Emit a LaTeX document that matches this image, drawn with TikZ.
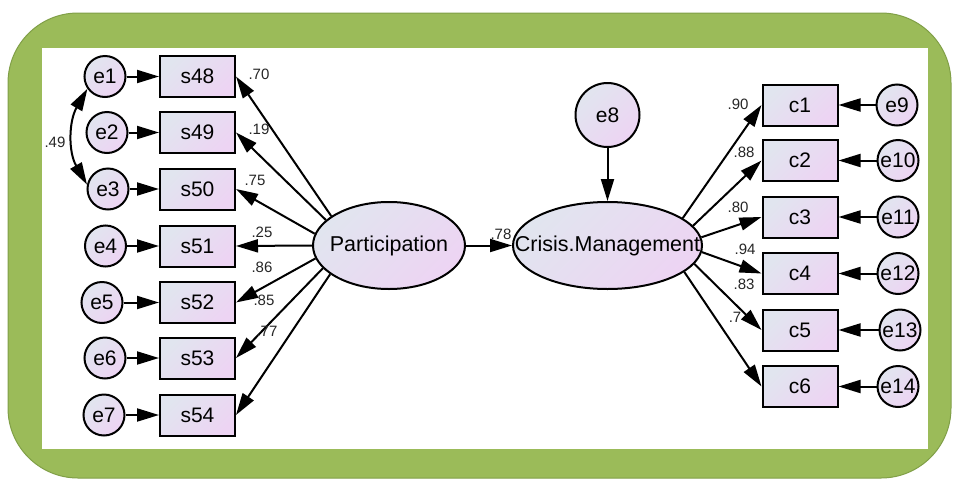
\documentclass[tikz,border=0pt]{standalone}
\usepackage{fontspec}
\setmainfont{Liberation Sans}
\usetikzlibrary{shapes.geometric,arrows.meta}
\definecolor{framegreen}{HTML}{9BBB59}
\definecolor{frameedge}{HTML}{809F47}
\definecolor{shadeA}{HTML}{E1E5EF}
\definecolor{shadeB}{HTML}{EDD4F3}
% zero-width centred text, so an oval keeps its given size
\newcommand\ctrtext[1]{\makebox[0pt]{#1}}
\begin{document}
\begin{tikzpicture}[x=1pt,y=1pt,
  >={Triangle[length=22pt,width=13pt]},
  every node/.style={inner sep=0pt},
  grad/.style={top color=shadeA, bottom color=shadeB, shading angle=45,
    draw=black, line width=2pt},
  obs/.style={grad, rectangle, minimum width=75pt, minimum height=41pt,
    font=\fontsize{21}{24}\selectfont},
  err/.style={grad, circle, minimum size=41pt,
    font=\fontsize{21}{24}\selectfont},
  lat/.style={grad, ellipse, minimum height=87pt,
    font=\fontsize{21.5}{24}\selectfont},
  arr/.style={line width=2pt, ->},
  coef/.style={font=\fontsize{15}{17}\selectfont, text=black!85}]

\useasboundingbox (0,0) rectangle (954,-480);

% green frame with white canvas
\fill[framegreen, draw=frameedge, line width=1pt, rounded corners=70pt]
  (8,-13) rectangle (951,-478);
\fill[white] (42,-48) rectangle (928,-449);

% latent variables
\node[lat, minimum width=152pt] (part) at (389,-245.5) {\ctrtext{Participation}};
\node[lat, minimum width=189pt] (crisis) at (607.5,-245.5) {\ctrtext{Crisis.Management}};
\node[grad, circle, minimum size=64pt, font=\fontsize{21}{24}\selectfont]
  (e8) at (607.5,-115) {e8};

% indicators of Participation
\node[obs] (s48) at (197.5,-76.5) {s48};
\node[obs] (s49) at (197.5,-132.5) {s49};
\node[obs] (s50) at (197.5,-189) {s50};
\node[obs] (s51) at (197.5,-246) {s51};
\node[obs] (s52) at (197.5,-302.5) {s52};
\node[obs] (s53) at (197.5,-358) {s53};
\node[obs] (s54) at (197.5,-415) {s54};

\node[err] (e1) at (105,-76.5) {\ctrtext{e1}};
\node[err] (e2) at (107,-132.5) {\ctrtext{e2}};
\node[err] (e3) at (108,-189) {\ctrtext{e3}};
\node[err] (e4) at (105.5,-246) {\ctrtext{e4}};
\node[err] (e5) at (102,-302.5) {\ctrtext{e5}};
\node[err] (e6) at (105,-358) {\ctrtext{e6}};
\node[err] (e7) at (104,-415) {\ctrtext{e7}};

% indicators of Crisis.Management
\node[obs] (c1) at (800,-105) {c1};
\node[obs] (c2) at (800,-160.5) {c2};
\node[obs] (c3) at (800,-217) {c3};
\node[obs] (c4) at (800,-273.5) {c4};
\node[obs] (c5) at (800,-330) {c5};
\node[obs] (c6) at (800,-386.5) {c6};

\node[err] (e9) at (897,-105) {\ctrtext{e9}};
\node[err] (e10) at (898,-160.5) {\ctrtext{e10}};
\node[err] (e11) at (898,-217) {\ctrtext{e11}};
\node[err] (e12) at (898,-273.5) {\ctrtext{e12}};
\node[err] (e13) at (900,-330) {\ctrtext{e13}};
\node[err] (e14) at (898,-386.5) {\ctrtext{e14}};

% error terms
\foreach \e/\s in {e1/s48,e2/s49,e3/s50,e4/s51,e5/s52,e6/s53,e7/s54,
                   e9/c1,e10/c2,e11/c3,e12/c4,e13/c5,e14/c6}
  \draw[arr] (\e) -- (\s);
\draw[arr] (e8) -- (crisis);

% covariance e1 -- e3
\draw[line width=2pt, <->] (e1.215) to[out=240,in=120] (e3.168);

% loadings
\draw[arr] (part.153) -- (s48.east);
\draw[arr] (part.158) -- (s49.east);
\draw[arr] (part.171) -- (s50.east);
\draw[arr] (part.180) -- (s51.east);
\draw[arr] (part.190) -- (s52.east);
\draw[arr] (part.199) -- (s53.east);
\draw[arr] (part.206) -- (s54.east);

\draw[arr] (crisis.20) -- (c1.west);
\draw[arr] (crisis.13) -- (c2.west);
\draw[arr] (crisis.5) -- (c3.west);
\draw[arr] (crisis.-4) -- (c4.west);
\draw[arr] (crisis.-12) -- (c5.west);
\draw[arr] (crisis.-19) -- (c6.west);

\draw[arr] (part) -- (crisis);

% estimates
\node[coef] (k70) at (259,-74) {.70};
\node[coef] (k19) at (259,-129) {.19};
\node[coef] (k75) at (255,-180) {.75};
\node[coef] (k25) at (262,-232) {.25};
\node[coef] (k86) at (262,-267) {.86};
\node[coef] (k85) at (264,-300) {.85};
\node[coef] (k77) at (267,-331) {.77};
\node[coef] (k49) at (55,-142) {.49};
\node[coef] (k78) at (501,-234) {.78};
\node[coef] (kc1) at (738,-104) {.90};
\node[coef] (kc2) at (744,-152) {.88};
\node[coef] (kc3) at (738,-207) {.80};
\node[coef] (kc4) at (745,-249) {.94};
\node[coef] (kc5) at (744,-284) {.83};
\node[coef] (kc6) at (735,-317) {.7};
\end{tikzpicture}
\end{document}
